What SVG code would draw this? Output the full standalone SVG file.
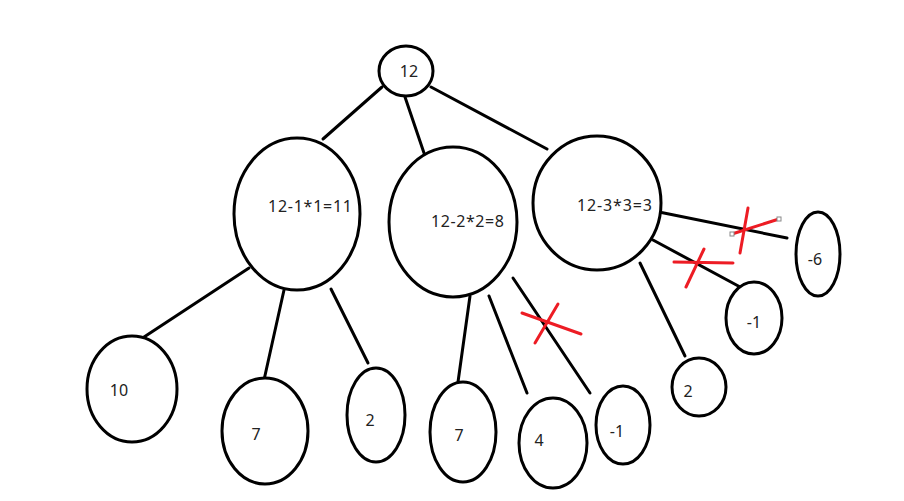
<svg xmlns="http://www.w3.org/2000/svg" width="904" height="501" viewBox="0 0 904 501">
<style>
.n{fill:#fff;stroke:#000;stroke-width:3}
.t{font-family:"Noto Sans",sans-serif;font-size:16px;fill:#222}
.c line{stroke:#000;stroke-width:3;stroke-linecap:round}
.x line{stroke:#ed1c24;stroke-width:3;stroke-linecap:round}
.h{fill:#fff;stroke:#888;stroke-width:1}
</style>
<rect width="904" height="501" fill="#fff"/>
<g class="c" id="connectors">
<line x1="382" y1="87" x2="323" y2="139"/>
<line x1="405" y1="97" x2="424" y2="153"/>
<line x1="431" y1="87" x2="547" y2="149"/>
<line x1="249" y1="268" x2="141" y2="339"/>
<line x1="284" y1="290" x2="264" y2="380"/>
<line x1="331" y1="289" x2="368" y2="363"/>
<line x1="470" y1="296" x2="458" y2="382"/>
<line x1="489" y1="296" x2="527" y2="393"/>
<line x1="513" y1="278" x2="590" y2="393"/>
<line x1="640" y1="263" x2="685" y2="356"/>
<line x1="653" y1="240" x2="742" y2="288"/>
<line x1="659" y1="212" x2="787" y2="238"/>
</g>
<g id="n12"><ellipse class="n" cx="406" cy="71" rx="27" ry="25"/><text class="t" x="409" y="77" text-anchor="middle">12</text></g>
<g id="n11"><ellipse class="n" cx="297" cy="214" rx="63" ry="76"/><text class="t" x="268" y="212" textLength="84" lengthAdjust="spacing">12-1*1=11</text></g>
<g id="n8"><ellipse class="n" cx="453" cy="222" rx="64" ry="75"/><text class="t" x="431" y="227" textLength="73" lengthAdjust="spacing">12-2*2=8</text></g>
<g id="n3"><ellipse class="n" cx="597" cy="203" rx="64" ry="67"/><text class="t" x="577" y="211" textLength="75" lengthAdjust="spacing">12-3*3=3</text></g>
<g id="l10"><ellipse class="n" cx="132" cy="389" rx="45" ry="53"/><text class="t" x="119" y="396" text-anchor="middle">10</text></g>
<g id="l7a"><ellipse class="n" cx="265" cy="431" rx="43" ry="53"/><text class="t" x="256" y="440" text-anchor="middle">7</text></g>
<g id="l2a"><ellipse class="n" cx="376" cy="415" rx="29" ry="47"/><text class="t" x="370" y="426" text-anchor="middle">2</text></g>
<g id="l7b"><ellipse class="n" cx="463" cy="432" rx="33" ry="50"/><text class="t" x="459" y="441" text-anchor="middle">7</text></g>
<g id="l4"><ellipse class="n" cx="553" cy="443" rx="34" ry="45"/><text class="t" x="539" y="446" text-anchor="middle">4</text></g>
<g id="lm1a"><ellipse class="n" cx="623" cy="425" rx="27" ry="39"/><text class="t" x="617" y="437" text-anchor="middle">-1</text></g>
<g id="l2b"><ellipse class="n" cx="699" cy="387" rx="27" ry="29"/><text class="t" x="688" y="397" text-anchor="middle">2</text></g>
<g id="lm1b"><ellipse class="n" cx="754" cy="318" rx="28" ry="36"/><text class="t" x="754" y="328" text-anchor="middle">-1</text></g>
<g id="lm6"><ellipse class="n" cx="818" cy="254" rx="22" ry="42"/><text class="t" x="815" y="265" text-anchor="middle">-6</text></g>
<g class="x" id="crosses">
<line x1="522" y1="313" x2="581" y2="334"/>
<line x1="558" y1="304" x2="535" y2="343"/>
<line x1="748" y1="208" x2="740" y2="253"/>
<line x1="732" y1="234" x2="779" y2="219"/>
<line x1="674" y1="262" x2="733" y2="263"/>
<line x1="704" y1="249" x2="686" y2="287"/>
</g>
<rect class="h" x="730" y="232" width="4" height="4"/>
<rect class="h" x="777" y="217" width="4" height="4"/>
</svg>
